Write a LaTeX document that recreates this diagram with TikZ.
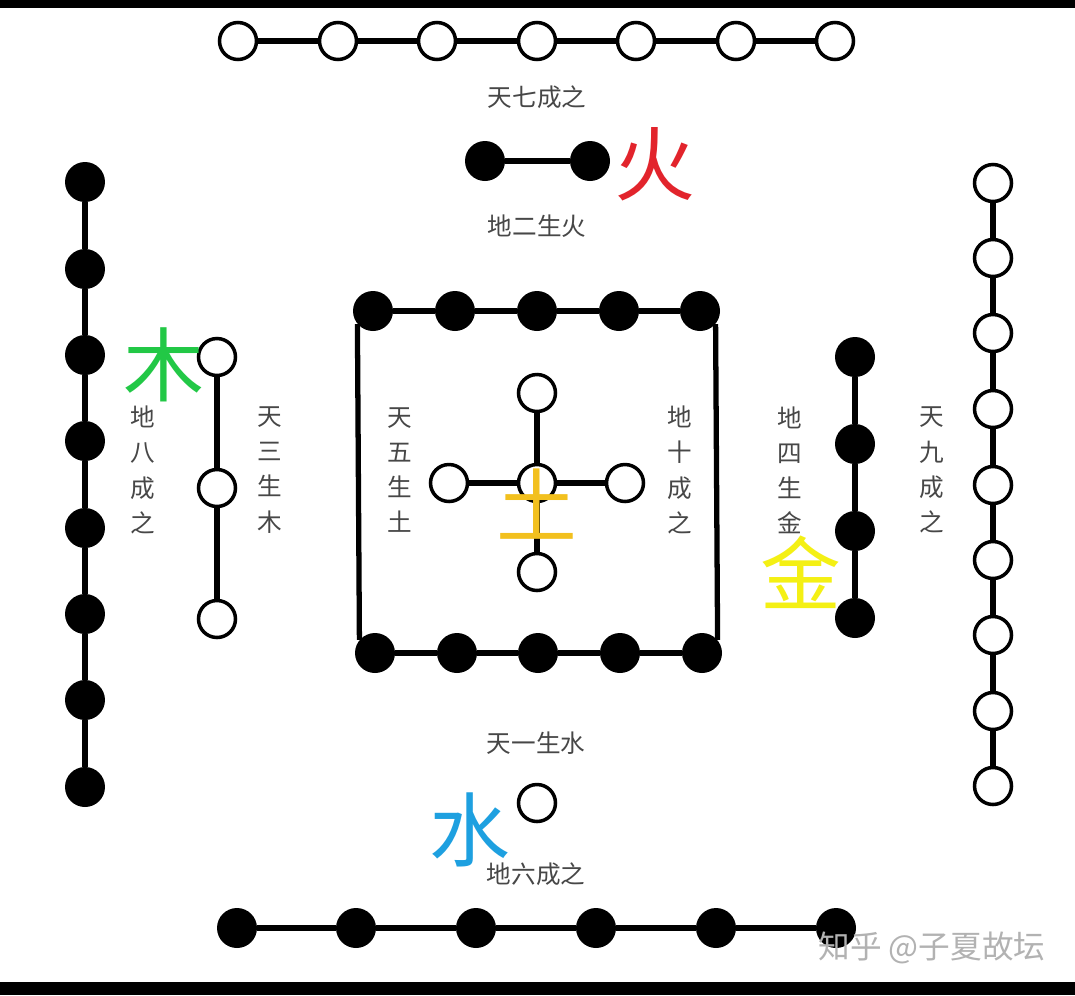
\documentclass[tikz,border=0pt]{standalone}
\usepackage{fontspec}
\setmainfont{Noto Sans CJK SC}
\newfontfamily\cjk{Noto Sans CJK SC}
\definecolor{huored}{RGB}{226,36,44}
\definecolor{mugreen}{RGB}{34,200,70}
\definecolor{tuyellow}{RGB}{242,192,30}
\definecolor{jinyellow}{RGB}{244,240,20}
\definecolor{shuiblue}{RGB}{30,160,224}
\tikzset{
  yang/.style={circle,draw,line width=2pt,fill=white,minimum size=0.74cm,inner sep=0pt},
  yin/.style={circle,fill=black,minimum size=0.8cm,inner sep=0pt},
  link/.style={line width=3pt},
  lbl/.style={text=black!72,font=\cjk\fontsize{14}{20}\selectfont,align=center,inner sep=0pt},
  elem/.style={font=\cjk\fontsize{46}{46}\selectfont,inner sep=0pt},
}

\begin{document}
\begin{tikzpicture}[x=0.02cm,y=-0.02cm]
        \useasboundingbox (0,0) rectangle (1075,995);
        \fill[white] (0,0) rectangle (1075,995);
        \fill[black] (0,0) rectangle (1075,8);
        \fill[black] (0,982) rectangle (1075,995);

        % tian qi (top row)
        \node[yang] (w1) at (238,41) {}; \node[yang] (w2) at (338,41) {};
        \node[yang] (w3) at (437,41) {}; \node[yang] (w4) at (537,41) {};
        \node[yang] (w5) at (636,41) {}; \node[yang] (w6) at (736,41) {};
        \node[yang] (w7) at (835,41) {};
        \draw[link] (w1) -- (w2) -- (w3) -- (w4) -- (w5) -- (w6) -- (w7);
        \node[lbl] (qi) at (537,97) {天七成之};

        % di er (fire)
        \node[yin] (f1) at (485,161) {}; \node[yin] (f2) at (590,161) {};
        \draw[link] (f1) -- (f2);
        \node[lbl] (er) at (537,226) {地二生火};
        \node[elem,text=huored] (huo) at (655,164) {火};

        % di ba (left)
        \node[yin] (e1) at (85,182) {}; \node[yin] (e2) at (85,269) {};
        \node[yin] (e3) at (85,355) {}; \node[yin] (e4) at (85,441) {};
        \node[yin] (e5) at (85,528) {}; \node[yin] (e6) at (85,614) {};
        \node[yin] (e7) at (85,700) {}; \node[yin] (e8) at (85,787) {};
        \draw[link] (e1) -- (e2) -- (e3) -- (e4) -- (e5) -- (e6) -- (e7) -- (e8);
        \node[lbl] (ba) at (143,470) {地\\八\\成\\之};

        % tian san (wood)
        \node[yang] (t1) at (217,357) {}; \node[yang] (t2) at (217,488) {};
        \node[yang] (t3) at (217,619) {};
        \draw[link] (t1) -- (t2) -- (t3);
        \node[lbl] (san) at (270,470) {天\\三\\生\\木};
        \node[elem,text=mugreen] (mu) at (164,365) {木};

        % di shi (square)
        \node[yin] (s1) at (373,311) {}; \node[yin] (s2) at (455,311) {};
        \node[yin] (s3) at (537,311) {}; \node[yin] (s4) at (619,311) {};
        \node[yin] (s5) at (700,311) {};
        \node[yin] (b1) at (375,653) {}; \node[yin] (b2) at (457,653) {};
        \node[yin] (b3) at (538,653) {}; \node[yin] (b4) at (620,653) {};
        \node[yin] (b5) at (702,653) {};
        \draw[link] (s1) -- (s2) -- (s3) -- (s4) -- (s5);
        \draw[link] (b1) -- (b2) -- (b3) -- (b4) -- (b5);
        \draw[link] (s1.220) -- (b1.140);
        \draw[link] (s5.320) -- (b5.40);
        \node[lbl] (shi) at (680,470) {地\\十\\成\\之};

        % tian wu (earth)
        \node[yang] (c0) at (537,483) {};
        \node[yang] (cn) at (537,393) {}; \node[yang] (cw) at (449,483) {};
        \node[yang] (ce) at (625,483) {}; \node[yang] (cs) at (537,572) {};
        \draw[link] (c0) -- (cn); \draw[link] (c0) -- (cw);
        \draw[link] (c0) -- (ce); \draw[link] (c0) -- (cs);
        \node[lbl] (wu) at (400,470) {天\\五\\生\\土};
        \node[elem,text=tuyellow] (tu) at (537,504) {土};

        % di si (metal)
        \node[yin] (g1) at (855,357) {}; \node[yin] (g2) at (855,444) {};
        \node[yin] (g3) at (855,531) {}; \node[yin] (g4) at (855,618) {};
        \draw[link] (g1) -- (g2) -- (g3) -- (g4);
        \node[lbl] (si) at (790,470) {地\\四\\生\\金};
        \node[elem,text=jinyellow] (jin) at (801,572) {金};

        % tian jiu (right)
        \node[yang] (n1) at (993,183) {}; \node[yang] (n2) at (993,258) {};
        \node[yang] (n3) at (993,333) {}; \node[yang] (n4) at (993,409) {};
        \node[yang] (n5) at (993,485) {}; \node[yang] (n6) at (993,560) {};
        \node[yang] (n7) at (993,635) {}; \node[yang] (n8) at (993,711) {};
        \node[yang] (n9) at (993,786) {};
        \draw[link] (n1) -- (n2) -- (n3) -- (n4) -- (n5) -- (n6) -- (n7) -- (n8) -- (n9);
        \node[lbl] (jiu) at (932,470) {天\\九\\成\\之};

        % tian yi (water)
        \node[lbl] (yi) at (536,743) {天一生水};
        \node[yang] (o1) at (537,803) {};
        \node[elem,text=shuiblue] (shui) at (470,830) {水};
        \node[lbl] (liu) at (536,874) {地六成之};

        % di liu (bottom row)
        \node[yin] (k1) at (237,928) {}; \node[yin] (k2) at (356,928) {};
        \node[yin] (k3) at (476,928) {}; \node[yin] (k4) at (596,928) {};
        \node[yin] (k5) at (716,928) {}; \node[yin] (k6) at (836,928) {};
        \draw[link] (k1) -- (k2) -- (k3) -- (k4) -- (k5) -- (k6);

        \node[text=black!30,font=\cjk\fontsize{18}{18}\selectfont] (mark) at (932,948) {知乎 @子夏故坛};
      \end{tikzpicture}
\end{document}
